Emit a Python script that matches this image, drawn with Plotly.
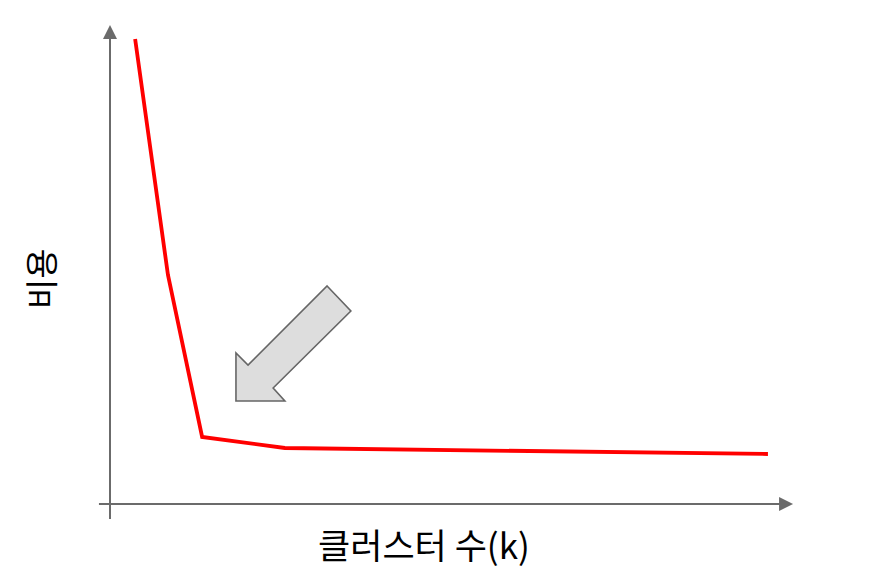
import plotly.graph_objects as go

# ---- data ----
k_values = [0.75, 1.73, 2.75, 5.22, 19.64]      # cluster count positions
cost_values = [93.0, 45.8, 13.4, 11.2, 10.0]     # cost
x_label = "클러스터 수(k)"
y_label = "비용"

# callout arrow polygon (data coordinates)
callout_k = [6.48, 7.19, 4.87, 5.22, 3.76, 3.76, 4.12]
callout_cost = [43.6, 38.6, 23.2, 20.6, 20.6, 30.2, 27.8]

W, H = 872, 584
PX_PER_K = 33.5
PX_PER_COST = 5.0
X0_PX = 110     # pixel of k=0
Y0_PX = 504     # pixel (from top) of cost=0

x_range = [-X0_PX / PX_PER_K, (W - X0_PX) / PX_PER_K]
y_range = [-(H - Y0_PX) / PX_PER_COST, Y0_PX / PX_PER_COST]

fig = go.Figure()
fig.add_trace(go.Scatter(x=k_values, y=cost_values, mode="lines",
                         line=dict(color="#ff0000", width=3.8),
                         hoverinfo="skip", showlegend=False))

axis_col = "#6b6b6b"
# axes lines
fig.add_shape(type="line", x0=0, x1=0, y0=-3.0, y1=94, xref="x", yref="y",
              line=dict(color=axis_col, width=2))
fig.add_shape(type="line", x0=-0.33, x1=20.2, y0=0, y1=0, xref="x", yref="y",
              line=dict(color=axis_col, width=2))
# arrow heads
fig.add_annotation(x=0, y=95.8, ax=0, ay=90, xref="x", yref="y", axref="x", ayref="y",
                   showarrow=True, arrowhead=2, arrowsize=1.4, arrowwidth=2,
                   arrowcolor=axis_col, text="")
fig.add_annotation(x=20.39, y=0, ax=19.5, ay=0, xref="x", yref="y", axref="x", ayref="y",
                   showarrow=True, arrowhead=2, arrowsize=1.4, arrowwidth=2,
                   arrowcolor=axis_col, text="")

# callout block arrow
path = "M " + " L ".join(f"{a},{b}" for a, b in zip(callout_k, callout_cost)) + " Z"
fig.add_shape(type="path", path=path, xref="x", yref="y",
              fillcolor="#dddddd", line=dict(color="#666666", width=1.6))

font_family = "Noto Sans CJK KR, Noto Sans, sans-serif"
fig.add_annotation(x=424 / W, y=1 - 543 / H, xref="paper", yref="paper",
                   text=x_label, showarrow=False,
                   font=dict(family=font_family, size=35, color="#000000"),
                   xanchor="center", yanchor="middle")
fig.add_annotation(x=40 / W, y=1 - 279 / H, xref="paper", yref="paper",
                   text=y_label, showarrow=False, textangle=-90,
                   font=dict(family=font_family, size=33, color="#000000"),
                   xanchor="center", yanchor="middle")

fig.update_layout(
    width=W, height=H,
    margin=dict(l=0, r=0, t=0, b=0),
    paper_bgcolor="white", plot_bgcolor="white",
    xaxis=dict(range=x_range, visible=False, fixedrange=True),
    yaxis=dict(range=y_range, visible=False, fixedrange=True),
)
fig.write_html("out.html")
